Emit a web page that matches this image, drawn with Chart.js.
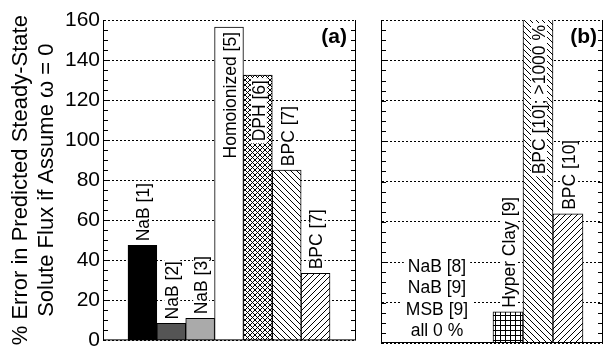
<!DOCTYPE html>
<html>
<head>
<meta charset="utf-8">
<script src="https://cdn.jsdelivr.net/npm/chart.js@4"></script>
<style>
body{margin:0;background:#fff;}
#wrap{position:relative;width:604px;height:356px;overflow:hidden;}
canvas{position:absolute;top:0;}
#chartA{left:0;}
#chartB{left:360px;}
</style>
</head>
<body>
<div id="wrap">
  <canvas id="chartA" width="360" height="356"></canvas>
  <canvas id="chartB" width="244" height="356"></canvas>
</div>
<script>
// panel (a)
var namesA = ['NaB [1]', 'NaB [2]', 'NaB [3]', 'Homoionized [5]', 'DPH [6]', 'BPC [7]', 'BPC [7]'];
var valuesA = [47.5, 8.5, 11, 156.5, 132.5, 85, 33.5];
// panel (b) - first three are zero
var namesB = ['NaB [8]', 'NaB [9]', 'MSB [9]', 'Hyper Clay [9]', 'BPC [10]; >1000 %', 'BPC [10]'];
var valuesB = [0, 0, 0, 15.5, 1000, 64];
var zeroNote = ['NaB [8]', 'NaB [9]', 'MSB [9]', 'all 0 %'];
var yTicks = [0, 20, 40, 60, 80, 100, 120, 140, 160];
var titleLines = ['% Error in Predicted Steady-State', 'Solute Flux if Assume \u03c9 = 0'];

var FONT = '"Liberation Sans", Arial, Helvetica, sans-serif';
Chart.defaults.font.family = FONT;
Chart.defaults.color = '#000';

//make hatch fills, pixel by pixel so lines stay crisp
function hatch(kind){
  var s = (kind == 'back' || kind == 'fwd') ? 6 : 5;
  var c = document.createElement('canvas');
  c.width = s; c.height = s;
  var g = c.getContext('2d');
  g.fillStyle = '#fff'; g.fillRect(0, 0, s, s);
  g.fillStyle = '#000';
  for(var i = 0; i < s; i++){
    if(kind == 'back' || kind == 'cross') g.fillRect(i, i, 1, 1);
    if(kind == 'fwd' || kind == 'cross') g.fillRect(s - 1 - i, i, 1, 1);
    if(kind == 'grid'){ g.fillRect(i, 0, 1, 1); g.fillRect(0, i, 1, 1); }
  }
  return g.createPattern(c, 'repeat');
}

var fillsA = ['#000', '#555', '#aaa', '#fff', hatch('cross'), hatch('back'), hatch('fwd')];
var fillsB = ['#fff', '#fff', '#fff', hatch('grid'), hatch('back'), hatch('fwd')];

function toPoints(vals){
  return vals.map(function(v, i){ return {x: i+1, y: v}; });
}

//frame, minor ticks, rotated bar labels, panel letter
function panelPlugin(names, letter, letterInset, note){
  return {
    id: 'panelDeco',
    afterDatasetsDraw: function(chart){
      var ctx = chart.ctx, area = chart.chartArea;
      var ys = chart.scales.y;
      ctx.save();
      ctx.strokeStyle = '#000';
      ctx.lineWidth = 1;
      ctx.beginPath();
      ctx.moveTo(area.right - 0.5, area.top); ctx.lineTo(area.right - 0.5, area.bottom);
      ctx.moveTo(area.left, ys.getPixelForValue(0) - 0.5); ctx.lineTo(area.right, ys.getPixelForValue(0) - 0.5);
      for(var v = 5; v < ys.max; v += 5){
        var yy = Math.round(ys.getPixelForValue(v)) + 0.5;
        ctx.moveTo(area.left, yy); ctx.lineTo(area.left + 5, yy);
        ctx.moveTo(area.right, yy); ctx.lineTo(area.right - 5, yy);
      }
      ctx.stroke();

      ctx.font = '17.5px ' + FONT;
      var meta = chart.getDatasetMeta(0);
      var pts = chart.data.datasets[0].data;
      meta.data.forEach(function(bar, i){
        if(pts[i].y === 0) return;
        var name = names[i];
        var w = ctx.measureText(name).width;
        var top = Math.max(bar.y, area.top);
        var inside = top - 5 - w < area.top;
        var y0 = inside ? top + 5 + w : top - 4;
        ctx.save();
        ctx.translate(bar.x + 1, y0);
        ctx.rotate(-Math.PI/2);
        ctx.fillStyle = '#fff';
        ctx.fillRect(-2, -8, w + 4, 16);
        ctx.fillStyle = '#000';
        ctx.textAlign = 'left';
        ctx.textBaseline = 'middle';
        ctx.fillText(name, 0, 1);
        ctx.restore();
      });

      if(note){
        var firstBar = meta.data[3];
        var cx = (area.left + firstBar.x - firstBar.width/2) / 2;
        var base = ys.getPixelForValue(0);
        ctx.textAlign = 'center';
        ctx.textBaseline = 'middle';
        for(var k = 0; k < note.length; k++){
          var ty = base - 13 - (note.length - 1 - k) * 21.3;
          var tw = ctx.measureText(note[k]).width;
          ctx.fillStyle = '#fff';
          ctx.fillRect(cx - tw/2 - 4, ty - 8, tw + 8, 16);
          ctx.fillStyle = '#000';
          ctx.fillText(note[k], cx, ty + 1);
        }
      }

      ctx.font = 'bold 21px ' + FONT;
      ctx.textAlign = 'right';
      ctx.textBaseline = 'middle';
      ctx.fillStyle = '#000';
      ctx.fillText(letter, area.right - letterInset, 37);
      ctx.restore();
    }
  };
}

function yScale(showLabels, width){
  return {
    min: 0,
    max: 160,
    afterBuildTicks: function(s){ s.ticks = yTicks.map(function(v){ return {value: v}; }); },
    afterFit: function(s){ s.width = width; },
    ticks: {display: showLabels, padding: 3, font: {size: 21}, color: '#000'},
    grid: {color: '#000', lineWidth: 1, drawTicks: false, tickLength: 0},
    border: {display: true, color: '#000', width: 1, dash: [2, 2]},
    title: {
      display: showLabels,
      text: titleLines,
      color: '#000',
      font: {size: 22, lineHeight: 1.18},
      padding: {top: 8, bottom: 0}
    }
  };
}

function xScale(lo, hi){
  return {
    type: 'linear',
    display: false,
    offset: false,
    min: lo,
    max: hi,
    ticks: {stepSize: 1, includeBounds: false},
    grid: {display: false, offset: false}
  };
}

var chartA = new Chart(document.getElementById('chartA').getContext('2d'), {
  type: 'bar',
  data: {
    datasets: [{
      data: toPoints(valuesA),
      backgroundColor: fillsA,
      borderColor: '#000',
      borderWidth: 1,
      barPercentage: 1,
      categoryPercentage: 1
    }]
  },
  options: {
    responsive: false,
    animation: false,
    layout: {padding: {top: 20, bottom: 13, left: 0, right: 4}},
    plugins: {legend: {display: false}, tooltip: {enabled: false}},
    scales: {x: xScale(-0.366, 8.4), y: yScale(true, 103)}
  },
  plugins: [panelPlugin(namesA, '(a)', 9, null)]
});

var chartB = new Chart(document.getElementById('chartB').getContext('2d'), {
  type: 'bar',
  data: {
    datasets: [{
      data: toPoints(valuesB),
      backgroundColor: fillsB,
      borderColor: '#000',
      borderWidth: 1,
      barPercentage: 1,
      categoryPercentage: 1
    }]
  },
  options: {
    responsive: false,
    animation: false,
    layout: {padding: {top: 20, bottom: 13, left: 0, right: 1}},
    plugins: {legend: {display: false}, tooltip: {enabled: false}},
    scales: {x: xScale(-0.233, 7.167), y: yScale(false, 21)}
  },
  plugins: [panelPlugin(namesB, '(b)', 6, zeroNote)]
});
</script>
</body>
</html>
